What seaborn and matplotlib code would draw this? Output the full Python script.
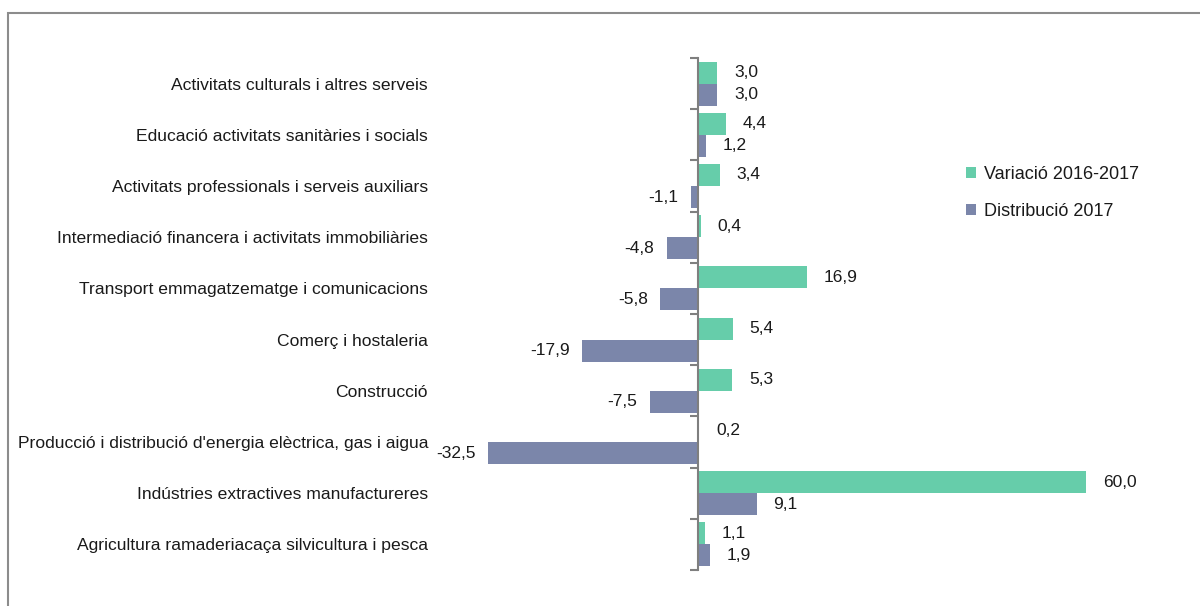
import numpy as np
import pandas as pd
import matplotlib.pyplot as plt
import seaborn as sns
from matplotlib.patches import Rectangle

categories = [
    "Activitats culturals i altres serveis",
    "Educació activitats sanitàries i socials",
    "Activitats professionals i serveis auxiliars",
    "Intermediació financera i activitats immobiliàries",
    "Transport emmagatzematge i comunicacions",
    "Comerç i hostaleria",
    "Construcció",
    "Producció i distribució d'energia elèctrica, gas i aigua",
    "Indústries extractives manufactureres",
    "Agricultura ramaderiacaça silvicultura i pesca",
]
variacio = [3.0, 4.4, 3.4, 0.4, 16.9, 5.4, 5.3, 0.2, 60.0, 1.1]
distribucio = [3.0, 1.2, -1.1, -4.8, -5.8, -17.9, -7.5, -32.5, 9.1, 1.9]
series_names = ["Variació 2016-2017", "Distribució 2017"]
colors = ["#66CDAA", "#7B86AA"]

df = pd.DataFrame({
    "cat": categories * 2,
    "val": variacio + distribucio,
    "serie": [series_names[0]] * len(categories) + [series_names[1]] * len(categories),
})

sns.set_style("white")
plt.rcParams["font.family"] = ["Liberation Sans", "DejaVu Sans"]

fig = plt.figure(figsize=(12, 6.06), dpi=100)
# 0 sits at x=698px, 60 at x=1086px
ppu = (1086 - 698) / 60
x0, x1 = 470, 1110
ax = fig.add_axes([x0 / 1200, 1 - 570 / 606, (x1 - x0) / 1200, 512 / 606])

sns.barplot(data=df, y="cat", x="val", hue="serie", hue_order=series_names,
            palette=colors, orient="h", width=0.86, ax=ax, saturation=1,
            edgecolor="none")

ax.set_xlim((x0 - 698) / ppu, (x1 - 698) / ppu)
ax.set_ylim(len(categories) - 0.5, -0.5)
ax.set_xlabel("")
ax.set_ylabel("")
ax.set_xticks([])

for s in ["top", "right", "bottom"]:
    ax.spines[s].set_visible(False)
ax.spines["left"].set_position(("data", 0))
ax.spines["left"].set_color("#7f7f7f")
ax.spines["left"].set_linewidth(1.5)

ax.set_yticks(range(len(categories)))
ax.set_yticklabels(categories, fontsize=12.6, color="#1a1a1a")
ax.set_yticks(np.arange(-0.5, len(categories), 1), minor=True)
ax.tick_params(axis="y", which="major", length=0, pad=270 * 72 / 100)
ax.tick_params(axis="y", which="minor", length=6, width=1.5, color="#7f7f7f",
               direction="out", left=True)

for cont in ax.containers:
    for bar in cont:
        w = bar.get_width()
        yc = bar.get_y() + bar.get_height() / 2
        txt = f"{w:.1f}".replace(".", ",")
        if w >= 0:
            ax.annotate(txt, (w, yc), xytext=(12, 0), textcoords="offset points",
                        ha="left", va="center", fontsize=12.5, color="#1a1a1a")
        else:
            ax.annotate(txt, (w, yc), xytext=(-9, 0), textcoords="offset points",
                        ha="right", va="center", fontsize=12.5, color="#1a1a1a")

leg = ax.legend(loc="upper left", bbox_to_anchor=(950 / 1200, 1 - 150 / 606),
                bbox_transform=fig.transFigure, frameon=False, fontsize=13,
                handlelength=0.55, handleheight=0.55, handletextpad=0.45,
                labelspacing=1.1)
for t in leg.get_texts():
    t.set_color("#1a1a1a")

fig.patches.append(Rectangle((8 / 1200, -0.1), 1.2, 1 - 13 / 606 + 0.1,
                             transform=fig.transFigure, fill=False,
                             edgecolor="#8c8c8c", linewidth=1.5))

fig.savefig("out.png", dpi=100)
